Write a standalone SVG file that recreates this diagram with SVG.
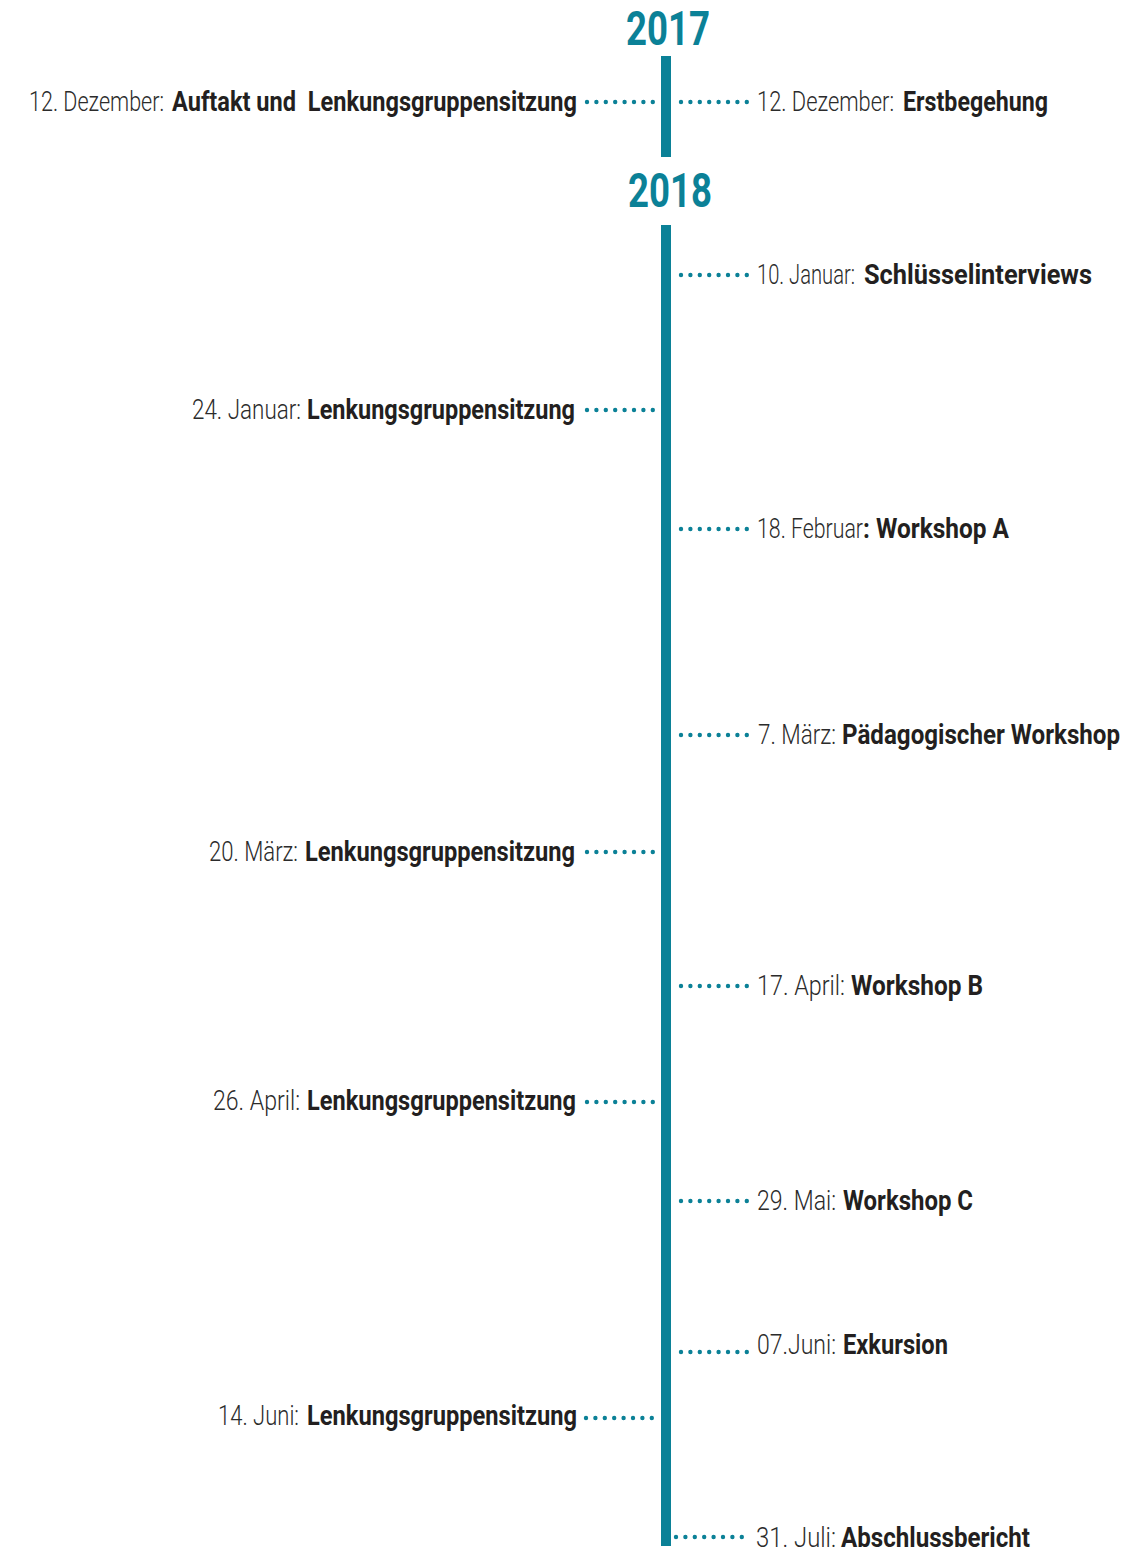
<svg xmlns="http://www.w3.org/2000/svg" width="1141" height="1555" viewBox="0 0 1141 1555">
<style>
  text { font-family: Roboto, "Liberation Sans", sans-serif; font-size: 27px; }
  .lt { font-weight: 300; fill: #2b2b2b; }
  .bd { font-weight: 700; fill: #231f20; }
  .yr { font-weight: 700; font-size: 49px; fill: #0b8197; }
  .dots { stroke: #0b8197; stroke-width: 4.4; stroke-linecap: round; stroke-dasharray: 0 9.4; fill: none; }
  .bar { fill: #0b8197; }
</style>
<rect width="1141" height="1555" fill="#ffffff"/>

<g id="connectors">
  <rect class="bar" x="661" y="56" width="10" height="101"/>
  <rect class="bar" x="661" y="225" width="10" height="1321"/>
  <line class="dots" x1="587" y1="102" x2="653.3" y2="102"/>
  <line class="dots" x1="681" y1="102" x2="747.3" y2="102"/>
  <line class="dots" x1="681" y1="275" x2="747.3" y2="275"/>
  <line class="dots" x1="587" y1="410" x2="653.3" y2="410"/>
  <line class="dots" x1="681" y1="529" x2="747.3" y2="529"/>
  <line class="dots" x1="681" y1="735" x2="747.3" y2="735"/>
  <line class="dots" x1="587" y1="852" x2="653.3" y2="852"/>
  <line class="dots" x1="681" y1="986" x2="747.3" y2="986"/>
  <line class="dots" x1="587" y1="1102" x2="653.3" y2="1102"/>
  <line class="dots" x1="681" y1="1201" x2="747.3" y2="1201"/>
  <line class="dots" x1="681" y1="1352" x2="747.3" y2="1352"/>
  <line class="dots" x1="586" y1="1418" x2="652.3" y2="1418"/>
  <line class="dots" x1="676" y1="1537" x2="742.3" y2="1537"/>
</g>

<g id="year-2017">
  <text class="yr" x="626" y="45" textLength="84" lengthAdjust="spacingAndGlyphs">2017</text>
</g>
<g id="year-2018">
  <text class="yr" x="628" y="207" textLength="84" lengthAdjust="spacingAndGlyphs">2018</text>
</g>

<g id="l-2017-12-12">
  <text y="111"><tspan class="lt" x="29" textLength="135" lengthAdjust="spacingAndGlyphs">12. Dezember:</tspan><tspan class="bd" x="172" textLength="405" lengthAdjust="spacingAndGlyphs" style="white-space:pre">Auftakt und  Lenkungsgruppensitzung</tspan></text>
</g>
<g id="r-2017-12-12">
  <text y="111"><tspan class="lt" x="757" textLength="137" lengthAdjust="spacingAndGlyphs">12. Dezember:</tspan><tspan class="bd" x="903" textLength="145" lengthAdjust="spacingAndGlyphs">Erstbegehung</tspan></text>
</g>
<g id="r-2018-01-10">
  <text y="284"><tspan class="lt" x="757" textLength="98" lengthAdjust="spacingAndGlyphs">10. Januar:</tspan><tspan class="bd" x="864" textLength="228" lengthAdjust="spacingAndGlyphs">Schlüsselinterviews</tspan></text>
</g>
<g id="l-2018-01-24">
  <text y="419"><tspan class="lt" x="192" textLength="109" lengthAdjust="spacingAndGlyphs">24. Januar:</tspan><tspan class="bd" x="307" textLength="268" lengthAdjust="spacingAndGlyphs">Lenkungsgruppensitzung</tspan></text>
</g>
<g id="r-2018-02-18">
  <text y="538"><tspan class="lt" x="757" textLength="106" lengthAdjust="spacingAndGlyphs">18. Februar</tspan><tspan class="bd" x="863" textLength="146" lengthAdjust="spacingAndGlyphs">: Workshop A</tspan></text>
</g>
<g id="r-2018-03-07">
  <text y="744"><tspan class="lt" x="758" textLength="78" lengthAdjust="spacingAndGlyphs">7. März:</tspan><tspan class="bd" x="842" textLength="278" lengthAdjust="spacingAndGlyphs">Pädagogischer Workshop</tspan></text>
</g>
<g id="l-2018-03-20">
  <text y="861"><tspan class="lt" x="209" textLength="89" lengthAdjust="spacingAndGlyphs">20. März:</tspan><tspan class="bd" x="305" textLength="270" lengthAdjust="spacingAndGlyphs">Lenkungsgruppensitzung</tspan></text>
</g>
<g id="r-2018-04-17">
  <text y="995"><tspan class="lt" x="757" textLength="88" lengthAdjust="spacingAndGlyphs">17. April:</tspan><tspan class="bd" x="851" textLength="132" lengthAdjust="spacingAndGlyphs">Workshop B</tspan></text>
</g>
<g id="l-2018-04-26">
  <text y="1110"><tspan class="lt" x="213" textLength="87" lengthAdjust="spacingAndGlyphs">26. April:</tspan><tspan class="bd" x="307" textLength="269" lengthAdjust="spacingAndGlyphs">Lenkungsgruppensitzung</tspan></text>
</g>
<g id="r-2018-05-29">
  <text y="1210"><tspan class="lt" x="757" textLength="79" lengthAdjust="spacingAndGlyphs">29. Mai:</tspan><tspan class="bd" x="843" textLength="130" lengthAdjust="spacingAndGlyphs">Workshop C</tspan></text>
</g>
<g id="r-2018-06-07">
  <text y="1354"><tspan class="lt" x="757" textLength="79" lengthAdjust="spacingAndGlyphs">07.Juni:</tspan><tspan class="bd" x="843" textLength="105" lengthAdjust="spacingAndGlyphs">Exkursion</tspan></text>
</g>
<g id="l-2018-06-14">
  <text y="1425"><tspan class="lt" x="218" textLength="81" lengthAdjust="spacingAndGlyphs">14. Juni:</tspan><tspan class="bd" x="307" textLength="270" lengthAdjust="spacingAndGlyphs">Lenkungsgruppensitzung</tspan></text>
</g>
<g id="r-2018-07-31">
  <text y="1547"><tspan class="lt" x="756" textLength="80" lengthAdjust="spacingAndGlyphs">31. Juli:</tspan><tspan class="bd" x="841" textLength="189" lengthAdjust="spacingAndGlyphs">Abschlussbericht</tspan></text>
</g>
</svg>
